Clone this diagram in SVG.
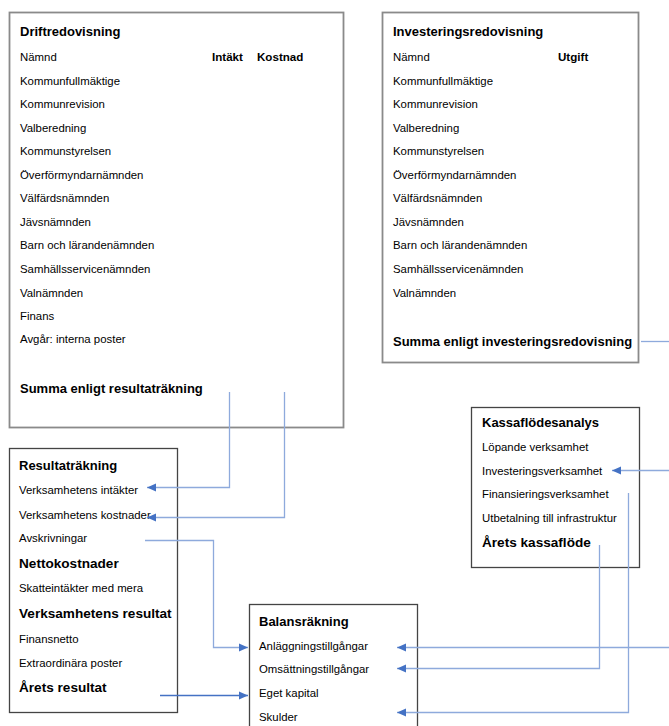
<svg xmlns="http://www.w3.org/2000/svg" width="669" height="726" viewBox="0 0 669 726">
<style>
text{font-family:"Liberation Sans",Arial,sans-serif;fill:#000}
.r{font-size:11.4px}
.h{font-size:13px;font-weight:bold}
.hb{font-size:13.6px;font-weight:bold}
.c{font-size:11.6px;font-weight:bold}
.box1{fill:#fff;stroke:#8a8a8a;stroke-width:1.8}
.box2{fill:#fff;stroke:#444;stroke-width:1.3}
.ln{fill:none;stroke:#8eaadc;stroke-width:1.3}
.ln2{fill:none;stroke:#4472c4;stroke-width:1.3}
</style>
<defs>
<marker id="ah" markerUnits="userSpaceOnUse" markerWidth="10" markerHeight="10" refX="9" refY="5" orient="auto">
<path d="M0,1 L9,5 L0,9 Z" fill="#4472c4"/>
</marker>
</defs>
<rect width="669" height="726" fill="#fff"/>

<g id="driftredovisning">
<rect class="box1" x="9.5" y="12.5" width="334" height="415"/>
<text class="h" x="20" y="36">Driftredovisning</text>
<text class="r" x="20" y="61">Nämnd</text>
<text class="c" x="212" y="61">Intäkt</text>
<text class="c" x="257" y="61">Kostnad</text>
<text class="r" x="20" y="85">Kommunfullmäktige</text>
<text class="r" x="20" y="108">Kommunrevision</text>
<text class="r" x="20" y="132">Valberedning</text>
<text class="r" x="20" y="155">Kommunstyrelsen</text>
<text class="r" x="20" y="179">Överförmyndarnämnden</text>
<text class="r" x="20" y="202">Välfärdsnämnden</text>
<text class="r" x="20" y="226">Jävsnämnden</text>
<text class="r" x="20" y="249">Barn och lärandenämnden</text>
<text class="r" x="20" y="273">Samhällsservicenämnden</text>
<text class="r" x="20" y="297">Valnämnden</text>
<text class="r" x="20" y="320">Finans</text>
<text class="r" x="20" y="343">Avgår: interna poster</text>
<text class="h" x="20" y="393">Summa enligt resultaträkning</text>
</g>

<g id="investeringsredovisning">
<rect class="box1" x="382.5" y="12.5" width="256" height="350"/>
<text class="h" x="393" y="36">Investeringsredovisning</text>
<text class="r" x="393" y="61">Nämnd</text>
<text class="c" x="558" y="61">Utgift</text>
<text class="r" x="393" y="85">Kommunfullmäktige</text>
<text class="r" x="393" y="108">Kommunrevision</text>
<text class="r" x="393" y="132">Valberedning</text>
<text class="r" x="393" y="155">Kommunstyrelsen</text>
<text class="r" x="393" y="179">Överförmyndarnämnden</text>
<text class="r" x="393" y="202">Välfärdsnämnden</text>
<text class="r" x="393" y="226">Jävsnämnden</text>
<text class="r" x="393" y="249">Barn och lärandenämnden</text>
<text class="r" x="393" y="273">Samhällsservicenämnden</text>
<text class="r" x="393" y="297">Valnämnden</text>
<text class="h" x="393" y="346">Summa enligt investeringsredovisning</text>
</g>

<g id="resultatrakning">
<rect class="box2" x="9.5" y="448.5" width="168" height="264"/>
<text class="h" x="19" y="470">Resultaträkning</text>
<text class="r" x="19" y="494">Verksamhetens intäkter</text>
<text class="r" x="19" y="519">Verksamhetens kostnader</text>
<text class="r" x="19" y="542">Avskrivningar</text>
<text class="hb" x="19" y="568">Nettokostnader</text>
<text class="r" x="19" y="592">Skatteintäkter med mera</text>
<text class="hb" x="19" y="618">Verksamhetens resultat</text>
<text class="r" x="19" y="643">Finansnetto</text>
<text class="r" x="19" y="667">Extraordinära poster</text>
<text class="hb" x="19" y="692">Årets resultat</text>
</g>

<g id="kassaflodesanalys">
<rect class="box2" x="471.5" y="407.5" width="168" height="160"/>
<text class="h" x="482" y="427">Kassaflödesanalys</text>
<text class="r" x="482" y="451">Löpande verksamhet</text>
<text class="r" x="482" y="475">Investeringsverksamhet</text>
<text class="r" x="482" y="498">Finansieringsverksamhet</text>
<text class="r" x="482" y="522">Utbetalning till infrastruktur</text>
<text class="hb" x="482" y="547">Årets kassaflöde</text>
</g>

<g id="balansrakning">
<rect class="box2" x="249.5" y="604.5" width="168" height="130"/>
<text class="h" x="259" y="626">Balansräkning</text>
<text class="r" x="259" y="650">Anläggningstillgångar</text>
<text class="r" x="259" y="673">Omsättningstillgångar</text>
<text class="r" x="259" y="697">Eget kapital</text>
<text class="r" x="259" y="721">Skulder</text>
</g>

<g id="connectors">
<path class="ln" d="M229.5,392 V487.5 H147" marker-end="url(#ah)"/>
<path class="ln" d="M284.5,392 V517.5 H147" marker-end="url(#ah)"/>
<path class="ln" d="M145,540.5 H213.5 V647.5 H248" marker-end="url(#ah)"/>
<path class="ln2" d="M160,695.5 H248" marker-end="url(#ah)"/>
<path class="ln" d="M669,341.5 H641"/>
<path class="ln" d="M669,470.5 H612" marker-end="url(#ah)"/>
<path class="ln" d="M669,647.5 H397" marker-end="url(#ah)"/>
<path class="ln" d="M599.5,545 V668.5 H397" marker-end="url(#ah)"/>
<path class="ln" d="M628.5,493 V712.5 H397" marker-end="url(#ah)"/>
</g>
</svg>
